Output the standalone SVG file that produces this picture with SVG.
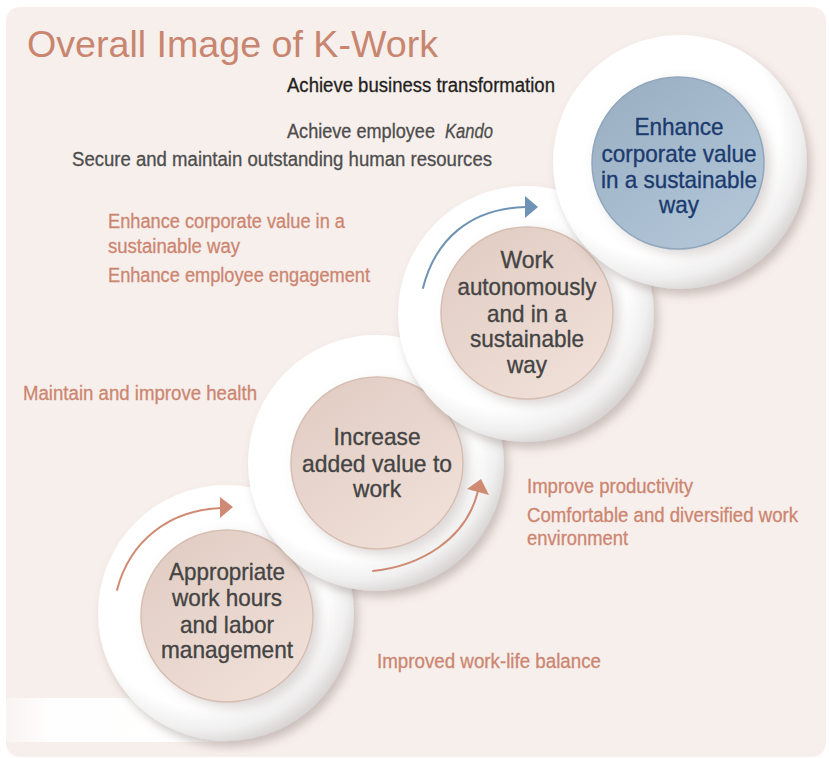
<svg xmlns="http://www.w3.org/2000/svg" width="829" height="758" viewBox="0 0 829 758">
<style>
.t{font-family:"Liberation Sans",Arial,"Noto Sans",sans-serif}
.title{font-size:36px;fill:#c8856f}
.s{font-size:20px;stroke-width:0.3px}
.sal{fill:#cc8670;stroke:#cc8670}
.gry{fill:#4d4d4d;stroke:#4d4d4d}
.blk{fill:#231f20;stroke:#231f20}
.n{font-size:24px;fill:#444;stroke:#444;stroke-width:0.35px;text-anchor:middle}
.nb{font-size:24px;fill:#1b3b6f;stroke:#1b3b6f;stroke-width:0.35px;text-anchor:middle}
.plate{fill:url(#plateG)}
.disk{fill:url(#diskG);stroke:#d6beb2;stroke-width:1.5}
.bdisk{fill:url(#blueG);stroke:#8fa6bc;stroke-width:1.5}
.arS{fill:none;stroke:#cf8a73;stroke-width:2;stroke-linecap:round}
.arB{fill:none;stroke:#6f93b4;stroke-width:2;stroke-linecap:round}
</style>
<defs>
<radialGradient id="plateG" cx="0.42" cy="0.4" r="0.62">
<stop offset="0" stop-color="#ffffff"/>
<stop offset="0.76" stop-color="#ffffff"/>
<stop offset="0.9" stop-color="#f0efef"/>
<stop offset="1" stop-color="#d9d6d5"/>
</radialGradient>
<linearGradient id="diskG" x1="0.2" y1="0.1" x2="0.8" y2="0.95">
<stop offset="0" stop-color="#e2cec5"/>
<stop offset="1" stop-color="#f0e0d8"/>
</linearGradient>
<linearGradient id="blueG" x1="0.2" y1="0.1" x2="0.8" y2="0.95">
<stop offset="0" stop-color="#9db1c5"/>
<stop offset="1" stop-color="#b2c6d8"/>
</linearGradient>
<linearGradient id="bandG" x1="0" y1="0" x2="1" y2="0">
<stop offset="0" stop-color="#ffffff" stop-opacity="0.3"/>
<stop offset="0.2" stop-color="#ffffff" stop-opacity="0.95"/>
<stop offset="1" stop-color="#ffffff" stop-opacity="1"/>
</linearGradient>
<filter id="sh" x="-20%" y="-20%" width="150%" height="150%">
<feDropShadow dx="4" dy="6" stdDeviation="5" flood-color="#7a6862" flood-opacity="0.35"/>
</filter>
<filter id="ish" x="-20%" y="-20%" width="150%" height="150%">
<feDropShadow dx="6" dy="5" stdDeviation="6" flood-color="#8a7a76" flood-opacity="0.3"/>
</filter>
</defs>

<rect x="6" y="7" width="820" height="750" rx="14" fill="#f7efec"/>

<text class="t title" x="27" y="57" textLength="411" lengthAdjust="spacingAndGlyphs">Overall Image of K-Work</text>

<g id="labels">
<text class="t s blk" x="287" y="92" textLength="268" lengthAdjust="spacingAndGlyphs">Achieve business transformation</text>
<text class="t s gry" x="287" y="138" textLength="148" lengthAdjust="spacingAndGlyphs">Achieve employee</text>
<text class="t s gry" x="445" y="138" textLength="48" lengthAdjust="spacingAndGlyphs" font-style="italic">Kando</text>
<text class="t s gry" x="72" y="166" textLength="420" lengthAdjust="spacingAndGlyphs">Secure and maintain outstanding human resources</text>
<text class="t s sal" x="108" y="228" textLength="237" lengthAdjust="spacingAndGlyphs">Enhance corporate value in a</text>
<text class="t s sal" x="108" y="253" textLength="132" lengthAdjust="spacingAndGlyphs">sustainable way</text>
<text class="t s sal" x="108" y="282" textLength="262" lengthAdjust="spacingAndGlyphs">Enhance employee engagement</text>
<text class="t s sal" x="23" y="400" textLength="234" lengthAdjust="spacingAndGlyphs">Maintain and improve health</text>
<text class="t s sal" x="527" y="493" textLength="166" lengthAdjust="spacingAndGlyphs">Improve productivity</text>
<text class="t s sal" x="527" y="522" textLength="271" lengthAdjust="spacingAndGlyphs">Comfortable and diversified work</text>
<text class="t s sal" x="527" y="545" textLength="101" lengthAdjust="spacingAndGlyphs">environment</text>
<text class="t s sal" x="377" y="668" textLength="224" lengthAdjust="spacingAndGlyphs">Improved work-life balance</text>
</g>

<rect x="6" y="698" width="222" height="44" fill="url(#bandG)"/>

<g id="node1">
<circle class="plate" cx="226" cy="613" r="128" filter="url(#sh)"/>
<circle class="disk" cx="227" cy="616" r="86" filter="url(#ish)"/>
<text class="t n" x="227" y="580" textLength="116" lengthAdjust="spacingAndGlyphs">Appropriate</text>
<text class="t n" x="227" y="606" textLength="110" lengthAdjust="spacingAndGlyphs">work hours</text>
<text class="t n" x="227" y="633" textLength="94" lengthAdjust="spacingAndGlyphs">and labor</text>
<text class="t n" x="227" y="658" textLength="132" lengthAdjust="spacingAndGlyphs">management</text>
</g>

<g id="node2">
<circle class="plate" cx="376" cy="463" r="128" filter="url(#sh)"/>
<circle class="disk" cx="377" cy="463" r="86" filter="url(#ish)"/>
<text class="t n" x="377" y="445" textLength="87" lengthAdjust="spacingAndGlyphs">Increase</text>
<text class="t n" x="377" y="472" textLength="150" lengthAdjust="spacingAndGlyphs">added value to</text>
<text class="t n" x="377" y="497" textLength="48" lengthAdjust="spacingAndGlyphs">work</text>
</g>

<g id="node3">
<circle class="plate" cx="526" cy="314" r="128" filter="url(#sh)"/>
<circle class="disk" cx="527" cy="313" r="86" filter="url(#ish)"/>
<text class="t n" x="527" y="268" textLength="53" lengthAdjust="spacingAndGlyphs">Work</text>
<text class="t n" x="527" y="295" textLength="139" lengthAdjust="spacingAndGlyphs">autonomously</text>
<text class="t n" x="527" y="322" textLength="80" lengthAdjust="spacingAndGlyphs">and in a</text>
<text class="t n" x="527" y="347" textLength="114" lengthAdjust="spacingAndGlyphs">sustainable</text>
<text class="t n" x="527" y="373" textLength="40" lengthAdjust="spacingAndGlyphs">way</text>
</g>

<g id="node4">
<circle class="plate" cx="680" cy="162" r="127" filter="url(#sh)"/>
<circle class="bdisk" cx="678" cy="163" r="86" filter="url(#ish)"/>
<text class="t nb" x="679" y="135" textLength="89" lengthAdjust="spacingAndGlyphs">Enhance</text>
<text class="t nb" x="679" y="162" textLength="155" lengthAdjust="spacingAndGlyphs">corporate value</text>
<text class="t nb" x="679" y="188" textLength="156" lengthAdjust="spacingAndGlyphs">in a sustainable</text>
<text class="t nb" x="679" y="213" textLength="40" lengthAdjust="spacingAndGlyphs">way</text>
</g>

<g id="connectors">
<path class="arS" d="M117,590 C130,540 170,510 221,508"/>
<polygon points="220,497 233,507 220,518" fill="#cf8a73"/>
<path class="arS" d="M373,571 C420,566 466,540 478,491"/>
<polygon points="467,489 481,479 489,495" fill="#cf8a73"/>
<path class="arB" d="M423,288 C435,240 470,208 526,207"/>
<polygon points="525,196 538,207 525,218" fill="#6f93b4"/>
</g>
</svg>
